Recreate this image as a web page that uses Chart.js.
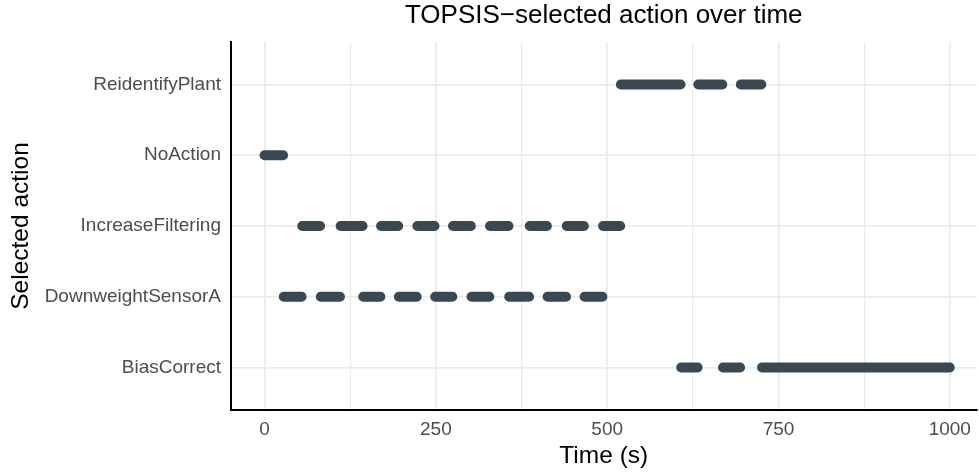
<!DOCTYPE html>
<html>
<head>
<meta charset="utf-8">
<script src="https://cdn.jsdelivr.net/npm/chart.js@4"></script>
<style>
  html, body { margin: 0; padding: 0; background: #ffffff; }
  #wrap { width: 979px; height: 473px; }
</style>
</head>
<body>
<div id="wrap"><canvas id="c" width="979" height="473"></canvas></div>
<script>
// Categories (bottom to top)
const categories = ['BiasCorrect', 'DownweightSensorA', 'IncreaseFiltering', 'NoAction', 'ReidentifyPlant'];

// Segment start / end times (s) for each selected action
const noActionStart = [0];
const noActionEnd   = [27];
const downweightStart = [28, 82, 144, 196, 249, 302, 357, 413, 467];
const downweightEnd   = [54, 110, 169, 222, 274, 328, 386, 440, 493];
const increaseStart = [55, 111, 170, 223, 275, 329, 387, 441, 494];
const increaseEnd   = [81, 143, 195, 248, 301, 356, 412, 466, 519];
const reidentifyStart = [520, 633, 695];
const reidentifyEnd   = [607, 668, 725];
const biasStart = [608, 669, 726];
const biasEnd   = [632, 694, 1000];

// Axis ticks
const xTicks = [0, 125, 250, 375, 500, 625, 750, 875, 1000];
const xTickLabels = ['0', '', '250', '', '500', '', '750', '', '1000'];

const titleText = 'TOPSIS\u2212selected action over time';
const xTitle = 'Time (s)';
const yTitle = 'Selected action';

function segments(name, starts, ends) {
  const y = categories.indexOf(name);
  const pts = [];
  for (let i = 0; i < starts.length; i++) {
    pts.push({ x: starts[i], y: y });
    pts.push({ x: ends[i], y: y });
    pts.push({ x: ends[i], y: null });
  }
  return pts;
}

const markColor = '#3A4852';
const series = [
  ['NoAction', noActionStart, noActionEnd],
  ['DownweightSensorA', downweightStart, downweightEnd],
  ['IncreaseFiltering', increaseStart, increaseEnd],
  ['ReidentifyPlant', reidentifyStart, reidentifyEnd],
  ['BiasCorrect', biasStart, biasEnd]
];

const datasets = series.map(s => ({
  label: s[0],
  data: segments(s[0], s[1], s[2]),
  borderColor: markColor,
  backgroundColor: markColor,
  borderWidth: 10,
  borderCapStyle: 'round',
  borderJoinStyle: 'round',
  pointRadius: 0,
  pointHoverRadius: 0,
  spanGaps: false,
  tension: 0,
  fill: false
}));

const FONT = '"Liberation Sans", Arial, Helvetica, sans-serif';

new Chart(document.getElementById('c'), {
  type: 'line',
  data: { datasets: datasets },
  options: {
    responsive: false,
    devicePixelRatio: 1,
    animation: false,
    events: [],
    layout: { padding: { left: 0, right: 0, top: 0, bottom: 0 } },
    plugins: {
      legend: { display: false },
      tooltip: { enabled: false },
      title: {
        display: true,
        text: titleText,
        fullSize: false,
        align: 'center',
        color: '#000000',
        font: { family: FONT, size: 26, weight: 'normal', lineHeight: 1.2 },
        padding: { top: 0.4, bottom: 10.4 }
      }
    },
    scales: {
      x: {
        type: 'linear',
        min: -49,
        max: 1039,
        afterBuildTicks: s => { s.ticks = xTicks.map(v => ({ value: v })); },
        afterFit: s => { s.height = 63; },
        ticks: {
          autoSkip: false,
          maxRotation: 0,
          minRotation: 0,
          padding: 8,
          color: '#4D4D4D',
          font: { family: FONT, size: 19 },
          callback: (v, i) => xTickLabels[xTicks.indexOf(v)]
        },
        grid: {
          drawTicks: false,
          color: '#EBEBEB',
          lineWidth: ctx => (ctx.tick && ctx.tick.value % 250 === 0) ? 1.7 : 1.2
        },
        border: { display: true, color: '#000000', width: 2 },
        title: {
          display: true,
          text: xTitle,
          color: '#000000',
          font: { family: FONT, size: 24.5, lineHeight: 1.2 },
          padding: { top: 0, bottom: 2 }
        }
      },
      y: {
        type: 'linear',
        min: -0.6,
        max: 4.6,
        afterBuildTicks: s => { s.ticks = categories.map((c, i) => ({ value: i })); },
        afterFit: s => { s.width = 231; },
        ticks: {
          autoSkip: false,
          padding: 10,
          color: '#4D4D4D',
          font: { family: FONT, size: 19 },
          callback: v => categories[v]
        },
        grid: {
          drawTicks: false,
          color: '#EBEBEB',
          lineWidth: 1.8
        },
        border: { display: true, color: '#000000', width: 2 },
        title: {
          display: true,
          text: yTitle,
          color: '#000000',
          font: { family: FONT, size: 24.5, lineHeight: 1.2 },
          padding: { top: 6.5, bottom: 0 }
        }
      }
    }
  }
});
</script>
</body>
</html>
